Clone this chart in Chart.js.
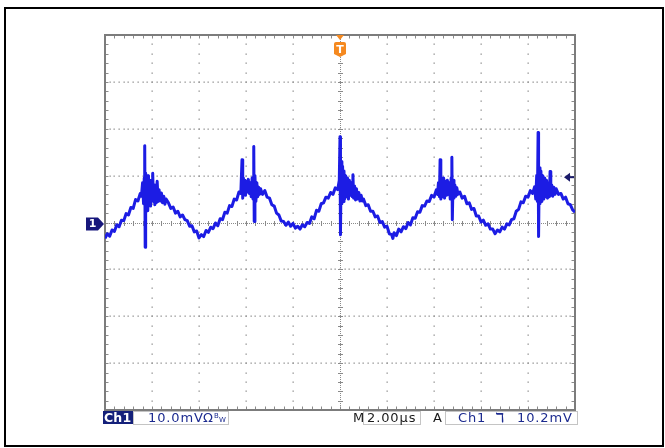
<!DOCTYPE html>
<html>
<head>
<meta charset="utf-8">
<script src="https://cdn.jsdelivr.net/npm/chart.js@4.4.1/dist/chart.umd.min.js"></script>
<style>
  html, body { margin: 0; padding: 0; background: #fff; }
  #wrap { position: relative; width: 665px; height: 448px; overflow: hidden; background: #fff; }
  #frame { position: absolute; left: 4px; top: 7px; width: 660px; height: 440px; border: 2px solid #000; box-sizing: border-box; pointer-events: none; }
  canvas { position: absolute; left: 0; top: 0; }
  .t { position: absolute; top: 410px; font-family: "DejaVu Sans", sans-serif; font-size: 13px; line-height: normal; white-space: nowrap; letter-spacing: 0.9px; }
  .navy { color: #1b2a8f; }
  .blk { color: #1a1a1a; }
  .box { position: absolute; top: 411px; height: 12px; border: 1px solid #c4c4c4; box-sizing: content-box; }
  .chbox { position: absolute; left: 103px; top: 411px; width: 30px; height: 13px; background: #14207a; }
  .chtxt { position: absolute; left: 104px; top: 410px; color: #fff; font-family: "DejaVu Sans", sans-serif; font-weight: bold; font-size: 12.5px; line-height: normal; letter-spacing: 0.2px; }
  .bw1 { position: absolute; left: 214px; top: 412px; font-family: "DejaVu Sans", sans-serif; font-size: 7px; color: #1b2a8f; }
  .bw2 { position: absolute; left: 219px; top: 416px; font-family: "DejaVu Sans", sans-serif; font-size: 7px; color: #1b2a8f; }
</style>
</head>
<body>
<div id="wrap">
  <canvas id="c" width="665" height="448"></canvas>
  <div class="chbox"></div>
  <div class="chtxt">Ch1</div>
  <div class="box" style="left:133px;width:94px;"></div>
  <span class="t navy" style="left:148px;">10.0mV</span>
  <span class="t navy" style="left:203px;letter-spacing:0;">Ω</span>
  <span class="bw1">B</span><span class="bw2">W</span>
  <span class="t blk" style="left:353px;letter-spacing:0;">M</span>
  <div class="box" style="left:363px;width:56px;"></div>
  <span class="t blk" style="left:367px;">2.00µs</span>
  <span class="t blk" style="left:433px;letter-spacing:0;">A</span>
  <div class="box" style="left:445px;width:131px;"></div>
  <span class="t navy" style="left:458px;">Ch1</span>
  <span class="t navy" style="left:495px;font-weight:bold;letter-spacing:0;">ℸ</span>
  <span class="t navy" style="left:517px;">10.2mV</span>
  <div id="frame"></div>
</div>
<script>
// ---- scope settings ----
const timePerDivUs = 2;        // M 2.00µs
const voltPerDivMv = 10;       // Ch1 10.0mV
const xTicksUs = [-10, -8, -6, -4, -2, 0, 2, 4, 6, 8, 10];
const yTicksMv = [-40, -30, -20, -10, 0, 10, 20, 30, 40];
const triggerTimeUs = 0;
const triggerLevelMv = 10.2;
const groundLevelMv = 0;

// ---- Ch1 trace: time (µs) and voltage (mV) ----
const traceTimeUs = [
  -10.0,-9.9,-9.8,-9.7,-9.6,-9.5,-9.4,-9.3,-9.2,-9.1,-9.0,-8.9,
  -8.8,-8.7,-8.6,-8.5,-8.45,-8.40,-8.36,-8.33,-8.31,-8.29,-8.27,-8.24,
  -8.21,-8.18,-8.15,-8.12,-8.09,-8.06,-8.03,-8.00,-7.97,-7.94,-7.91,-7.88,
  -7.85,-7.82,-7.78,-7.74,-7.70,-7.65,-7.60,-7.55,-7.50,-7.45,-7.40,-7.3,
  -7.2,-7.1,-7.0,-6.9,-6.8,-6.7,-6.6,-6.5,-6.4,-6.3,-6.2,-6.1,
  -6.0,-5.9,-5.8,-5.7,-5.6,-5.5,-5.4,-5.3,-5.2,-5.1,-5.0,-4.9,
  -4.8,-4.7,-4.6,-4.5,-4.4,-4.3,-4.22,-4.17,-4.14,-4.11,-4.08,-4.05,
  -4.02,-3.98,-3.94,-3.90,-3.86,-3.82,-3.78,-3.74,-3.70,-3.67,-3.65,-3.62,
  -3.58,-3.54,-3.50,-3.46,-3.42,-3.38,-3.3,-3.2,-3.1,-3.0,-2.9,-2.8,
  -2.7,-2.6,-2.5,-2.4,-2.3,-2.2,-2.1,-2.0,-1.9,-1.8,-1.7,-1.6,
  -1.5,-1.4,-1.3,-1.2,-1.1,-1.0,-0.9,-0.8,-0.7,-0.6,-0.5,-0.4,
  -0.3,-0.2,-0.1,-0.03,0.00,0.02,0.05,0.08,0.11,0.14,0.17,0.20,
  0.24,0.28,0.32,0.36,0.40,0.44,0.48,0.52,0.55,0.58,0.62,0.66,
  0.70,0.75,0.80,0.85,0.90,0.95,1.0,1.1,1.2,1.3,1.4,1.5,
  1.6,1.7,1.8,1.9,2.0,2.1,2.2,2.25,2.3,2.4,2.5,2.6,
  2.7,2.8,2.9,3.0,3.1,3.2,3.3,3.4,3.5,3.6,3.7,3.8,
  3.9,4.0,4.1,4.15,4.19,4.23,4.26,4.29,4.33,4.37,4.41,4.45,
  4.49,4.53,4.57,4.61,4.65,4.69,4.73,4.76,4.78,4.81,4.85,4.89,
  4.93,4.97,5.02,5.1,5.2,5.3,5.4,5.5,5.6,5.7,5.8,5.9,
  6.0,6.1,6.2,6.3,6.4,6.5,6.6,6.7,6.8,6.9,7.0,7.1,
  7.2,7.3,7.4,7.5,7.6,7.7,7.8,7.9,8.0,8.1,8.2,8.28,
  8.33,8.37,8.40,8.43,8.45,8.48,8.51,8.55,8.59,8.63,8.67,8.71,
  8.75,8.79,8.83,8.87,8.91,8.94,8.97,9.01,9.05,9.10,9.15,9.2,
  9.3,9.4,9.5,9.6,9.7,9.8,9.9,10.0
];
const traceMv = [
  -3.4,-2.4,-2.9,-1.6,-1.9,-0.5,-0.9,0.5,0.4,1.9,1.6,3.2,
  3.0,4.9,4.6,6.2,5.6,8.5,4.0,9.5,16.4,-5.3,10.5,3.0,
  9.8,2.5,10.0,4.0,8.8,3.5,9.0,5.0,10.5,4.5,8.0,3.8,
  7.5,4.2,8.8,4.5,7.0,4.6,6.3,4.2,5.6,3.9,5.0,4.2,
  3.0,3.3,2.0,2.4,1.2,1.6,0.6,0.4,-0.8,-0.7,-2.0,-1.8,
  -3.3,-2.6,-3.0,-1.7,-2.1,-1.0,-1.3,-0.1,-0.7,0.8,0.6,2.2,
  2.0,3.6,3.4,5.0,4.8,6.5,6.2,13.4,5.2,9.5,6.0,9.0,
  5.8,8.8,6.5,9.2,6.2,8.5,5.5,9.5,5.0,16.2,0.2,10.0,
  4.5,8.5,5.5,7.5,6.0,7.2,6.0,6.8,5.4,5.2,3.8,3.5,
  2.0,1.6,0.3,0.2,-0.6,0.1,-0.8,-0.2,-1.2,-0.8,-1.4,-0.5,
  -0.9,0.0,-0.2,1.2,0.8,2.6,2.4,4.0,4.2,5.4,5.2,6.4,
  6.0,7.4,7.0,9.0,18.3,-2.6,13.0,4.0,12.0,4.5,11.0,5.0,
  10.0,5.5,9.5,5.0,9.0,5.8,8.5,5.5,10.2,5.2,7.8,4.8,
  7.2,5.0,6.4,4.6,5.8,4.6,5.0,3.6,3.8,2.4,2.4,1.2,
  1.4,0.0,0.2,-1.0,-0.8,-2.4,-2.6,-3.4,-2.2,-2.8,-1.4,-2.0,
  -0.9,-1.3,0.0,-0.5,1.0,0.9,2.3,2.2,3.6,3.5,4.6,4.5,
  5.8,5.4,7.0,6.0,8.5,5.5,13.4,5.0,9.0,5.5,9.5,5.2,
  8.8,5.8,9.0,6.0,8.5,5.0,9.5,13.9,0.6,9.0,5.2,8.0,
  5.6,7.4,6.0,6.5,5.2,5.6,4.0,4.2,2.8,3.0,1.4,1.4,
  0.1,0.5,-0.6,-0.3,-1.4,-1.4,-2.4,-1.6,-2.0,-1.0,-1.4,-0.3,
  -0.5,0.6,0.8,2.4,2.8,4.4,4.2,5.6,5.4,6.8,6.2,7.6,
  5.0,10.0,4.5,19.2,-3.0,11.7,4.0,11.0,4.5,10.0,5.0,9.5,
  5.5,9.0,5.2,8.5,5.5,10.9,5.8,8.0,5.6,7.5,6.0,7.2,
  6.0,6.2,5.0,5.4,4.0,3.8,2.7,2.2
];

const tracePoints = traceTimeUs.map((t, i) => ({ x: t, y: traceMv[i] }));

// ---- graticule drawn from the chart's own scales ----
const graticule = {
  id: 'graticule',
  beforeDatasetsDraw(chart) {
    const ctx = chart.ctx, ca = chart.chartArea;
    const xs = chart.scales.x, ys = chart.scales.y;
    const xMin = xTicksUs[0], xMax = xTicksUs[xTicksUs.length - 1];
    const yMin = yTicksMv[0], yMax = yTicksMv[yTicksMv.length - 1];
    const xMinor = timePerDivUs / 5, yMinor = voltPerDivMv / 5;
    ctx.save();
    ctx.fillStyle = '#8f8f8f';
    xTicksUs.forEach(xv => {
      if (xv === xMin || xv === xMax || xv === 0) return;
      const px = Math.round(xs.getPixelForValue(xv)) - 0.5;
      for (let yv = yMin + yMinor; yv < yMax; yv += yMinor) {
        ctx.fillRect(px, Math.round(ys.getPixelForValue(yv)) - 0.5, 1.3, 1.3);
      }
    });
    yTicksMv.forEach(yv => {
      if (yv === yMin || yv === yMax || yv === 0) return;
      const py = Math.round(ys.getPixelForValue(yv)) - 0.5;
      for (let xv = xMin + xMinor / 2; xv < xMax; xv += xMinor / 2) {
        ctx.fillRect(Math.round(xs.getPixelForValue(xv)) - 0.5, py, 1.3, 1.3);
      }
    });
    const x0 = Math.round(xs.getPixelForValue(0)) + 0.5;
    const y0 = Math.round(ys.getPixelForValue(0)) + 0.5;
    ctx.strokeStyle = '#8a8a8a';
    ctx.lineWidth = 1;
    ctx.setLineDash([1, 1]);
    ctx.beginPath();
    ctx.moveTo(ca.left, y0); ctx.lineTo(ca.right, y0);
    ctx.moveTo(x0, ca.top); ctx.lineTo(x0, ca.bottom);
    ctx.stroke();
    ctx.setLineDash([]);
    ctx.beginPath();
    for (let xv = xMin + xMinor; xv < xMax - 1e-6; xv += xMinor) {
      const px = Math.round(xs.getPixelForValue(xv)) + 0.5;
      ctx.moveTo(px, y0 - 2.5); ctx.lineTo(px, y0 + 2.5);
      ctx.moveTo(px, ca.top); ctx.lineTo(px, ca.top + 3.5);
      ctx.moveTo(px, ca.bottom); ctx.lineTo(px, ca.bottom - 3.5);
    }
    for (let yv = yMin + yMinor; yv < yMax - 1e-6; yv += yMinor) {
      const py = Math.round(ys.getPixelForValue(yv)) + 0.5;
      ctx.moveTo(x0 - 2.5, py); ctx.lineTo(x0 + 2.5, py);
      ctx.moveTo(ca.left, py); ctx.lineTo(ca.left + 3.5, py);
      ctx.moveTo(ca.right, py); ctx.lineTo(ca.right - 3.5, py);
    }
    ctx.stroke();
    ctx.strokeStyle = '#7c7c7c';
    ctx.lineWidth = 2;
    ctx.strokeRect(ca.left, ca.top, ca.right - ca.left, ca.bottom - ca.top);
    ctx.restore();
  },
  afterDraw(chart) {
    const ctx = chart.ctx, ca = chart.chartArea;
    const xs = chart.scales.x, ys = chart.scales.y;
    ctx.save();
    const tx = xs.getPixelForValue(triggerTimeUs);
    ctx.fillStyle = '#f5891f';
    ctx.beginPath();
    ctx.moveTo(tx - 4, ca.top); ctx.lineTo(tx + 4, ca.top); ctx.lineTo(tx, ca.top + 5);
    ctx.closePath(); ctx.fill();
    ctx.beginPath();
    ctx.moveTo(tx - 6, ca.top + 9);
    ctx.quadraticCurveTo(tx - 6, ca.top + 7, tx - 4, ca.top + 7);
    ctx.lineTo(tx + 4, ca.top + 7);
    ctx.quadraticCurveTo(tx + 6, ca.top + 7, tx + 6, ca.top + 9);
    ctx.lineTo(tx + 6, ca.top + 19);
    ctx.lineTo(tx, ca.top + 22);
    ctx.lineTo(tx - 6, ca.top + 19);
    ctx.closePath(); ctx.fill();
    ctx.fillStyle = '#ffffff';
    ctx.font = 'bold 11px "DejaVu Sans", sans-serif';
    ctx.textAlign = 'center'; ctx.textBaseline = 'middle';
    ctx.fillText('T', tx, ca.top + 15);
    const gy = ys.getPixelForValue(groundLevelMv) + 1.5;
    ctx.fillStyle = '#17177c';
    ctx.beginPath();
    ctx.moveTo(86, gy - 6.5); ctx.lineTo(98, gy - 6.5); ctx.lineTo(104, gy);
    ctx.lineTo(98, gy + 6.5); ctx.lineTo(86, gy + 6.5);
    ctx.closePath(); ctx.fill();
    ctx.fillStyle = '#ffffff';
    ctx.fillText('1', 92.5, gy + 0.5);
    const ly = ys.getPixelForValue(triggerLevelMv) + 2.5;
    ctx.fillStyle = '#1a1a6a';
    ctx.beginPath();
    ctx.moveTo(ca.right - 11, ly); ctx.lineTo(ca.right - 5, ly - 4.5); ctx.lineTo(ca.right - 5, ly + 4.5);
    ctx.closePath(); ctx.fill();
    ctx.fillRect(ca.right - 6, ly - 1, 5, 2);
    ctx.restore();
  }
};

new Chart(document.getElementById('c'), {
  type: 'scatter',
  data: {
    datasets: [{
      label: 'Ch1',
      data: tracePoints,
      showLine: true,
      borderColor: '#1c1ce4',
      borderWidth: 3,
      pointRadius: 0,
      tension: 0,
      borderJoinStyle: 'round'
    }]
  },
  options: {
    responsive: false,
    animation: false,
    devicePixelRatio: 1,
    layout: { padding: { left: 105, right: 90, top: 35, bottom: 38 } },
    plugins: { legend: { display: false }, tooltip: { enabled: false } },
    scales: {
      x: { type: 'linear', min: xTicksUs[0], max: xTicksUs[xTicksUs.length - 1], display: false },
      y: { type: 'linear', min: yTicksMv[0], max: yTicksMv[yTicksMv.length - 1], display: false }
    }
  },
  plugins: [graticule]
});
</script>
</body>
</html>
